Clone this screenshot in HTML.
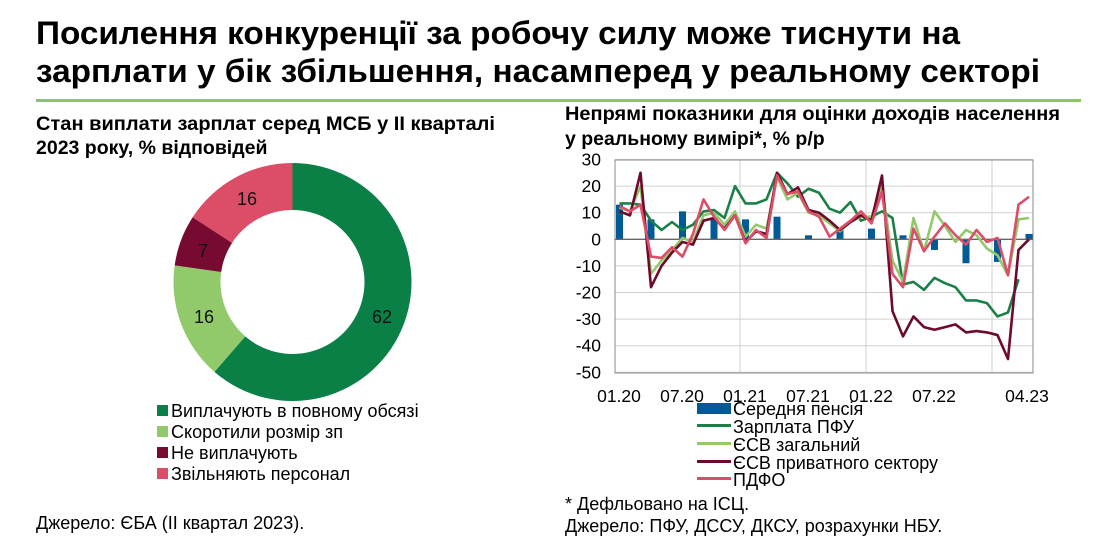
<!DOCTYPE html>
<html><head><meta charset="utf-8"><style>
body{margin:0;width:1095px;height:545px;background:#fff;overflow:hidden;font-family:"Liberation Sans",sans-serif;}
svg{position:absolute;left:0;top:0}
</style></head><body>
<svg id="s" width="1095" height="545" xmlns="http://www.w3.org/2000/svg" font-family="Liberation Sans, sans-serif">
<text x="36" y="44" font-size="32.5" font-weight="bold" textLength="924" lengthAdjust="spacingAndGlyphs">Посилення конкуренції за робочу силу може тиснути на</text>
<text x="36" y="82" font-size="32.5" font-weight="bold" textLength="1004" lengthAdjust="spacingAndGlyphs">зарплати у бік збільшення, насамперед у реальному секторі</text>
<rect x="36" y="99" width="1045" height="3" fill="#8cc45f"/>
<text x="36" y="130" font-size="19.5" font-weight="bold" textLength="459" lengthAdjust="spacingAndGlyphs">Стан виплати зарплат серед МСБ у ІІ кварталі</text>
<text x="36" y="154" font-size="19.5" font-weight="bold">2023 року, % відповідей</text>
<text x="565" y="120" font-size="19.5" font-weight="bold" textLength="495" lengthAdjust="spacingAndGlyphs">Непрямі показники для оцінки доходів населення</text>
<text x="565" y="145" font-size="19.5" font-weight="bold">у реальному вимірі*, % р/р</text>
<g id="donut"></g>
<g font-size="18">
<rect x="157" y="405" width="11" height="11" fill="#0a7f46"/><text x="171" y="417">Виплачують в повному обсязі</text>
<rect x="157" y="426" width="11" height="11" fill="#92c96b"/><text x="171" y="438">Скоротили розмір зп</text>
<rect x="157" y="447" width="11" height="11" fill="#760a30"/><text x="171" y="459">Не виплачують</text>
<rect x="157" y="468" width="11" height="11" fill="#dc4d68"/><text x="171" y="480">Звільняють персонал</text>
<text x="36" y="529" font-size="18">Джерело: ЄБА (ІІ квартал 2023).</text>
</g>
<g id="chart"></g>
<g font-size="18">
<rect x="697" y="403" width="34" height="11" fill="#005a96"/><text x="733" y="415">Середня пенсія</text>
<rect x="697" y="424" width="34" height="3" fill="#1a8048"/><text x="733" y="433">Зарплата ПФУ</text>
<rect x="697" y="442" width="34" height="3" fill="#92c96b"/><text x="733" y="451">ЄСВ загальний</text>
<rect x="697" y="460" width="34" height="3" fill="#6e0a2c"/><text x="733" y="469">ЄСВ приватного сектору</text>
<rect x="697" y="477" width="34" height="3" fill="#dc4d68"/><text x="733" y="486">ПДФО</text>
<text x="565" y="510">* Дефльовано на ІСЦ.</text>
<text x="565" y="532">Джерело: ПФУ, ДССУ, ДКСУ, розрахунки НБУ.</text>
</g>
</svg>
<script>
var NS="http://www.w3.org/2000/svg";
function el(p,t,a,txt){var e=document.createElementNS(NS,t);for(var k in a)e.setAttribute(k,a[k]);if(txt!==undefined)e.textContent=txt;p.appendChild(e);return e;}
var d=document.getElementById("donut");
var vals=[62,16,7,16],cols=["#0a7f46","#92c96b","#760a30","#dc4d68"],tot=101;
var cx=292.5,cy=282,R=119,r=72,a0=-Math.PI/2;
var lab=[[382,323],[204,323],[203,257],[247,205]];
vals.forEach(function(v,i){var a1=a0+v/tot*2*Math.PI;var lg=(a1-a0)>Math.PI?1:0;
var p="M"+(cx+R*Math.cos(a0))+" "+(cy+R*Math.sin(a0))+"A"+R+" "+R+" 0 "+lg+" 1 "+(cx+R*Math.cos(a1))+" "+(cy+R*Math.sin(a1))+"L"+(cx+r*Math.cos(a1))+" "+(cy+r*Math.sin(a1))+"A"+r+" "+r+" 0 "+lg+" 0 "+(cx+r*Math.cos(a0))+" "+(cy+r*Math.sin(a0))+"Z";
el(d,"path",{d:p,fill:cols[i]});
el(d,"text",{x:lab[i][0],y:lab[i][1],"font-size":"18","text-anchor":"middle",fill:"#111"},String(v));
a0=a1;});
var c=document.getElementById("chart");
var L=615,Rr=1033,T=160,B=373;
function Y(v){return 239.3-v*2.66;}
function X(i){return 619.5+10.5*i;}
for(var v=30;v>=-50;v-=10){ if(v!=0) el(c,"line",{x1:L,x2:Rr,y1:Y(v),y2:Y(v),stroke:"#d0d0d0","stroke-width":1});
 el(c,"text",{x:601,y:Y(v)+6,"font-size":"17.5","text-anchor":"end"},String(v));}
[740,866,992].forEach(function(x){el(c,"line",{x1:x,x2:x,y1:T,y2:B,stroke:"#d0d0d0"});});
el(c,"rect",{x:L,y:T,width:Rr-L,height:B-T,fill:"none",stroke:"#888"});
var xl=[["01.20",619],["07.20",682],["01.21",745],["07.21",808],["01.22",871],["07.22",934],["04.23",1027]];
xl.forEach(function(a){el(c,"text",{x:a[1],y:402,"font-size":"17.5","text-anchor":"middle"},a[0]);});
var bars=[13,7.5,10.5,8,7.5,8.5,1.5,3.5,4,1.5,-4,-9,-8.5,2];
bars.forEach(function(v,k){var x=X(k*3)-3.5;var y=Math.min(Y(v),Y(0));el(c,"rect",{x:x,y:y,width:7,height:Math.abs(Y(v)-Y(0)),fill:"#005a96"});});
el(c,"line",{x1:L,x2:Rr,y1:Y(0),y2:Y(0),stroke:"#666","stroke-width":1.3});
var pfu=[13.5,13.5,13,7,3.5,6.5,3.5,5.5,10.5,11,8,20,13.5,13.5,15,25,21,16,19,17.5,11.5,10,14,7,8.5,10.5,8,-17,-16,-19,-14.5,-16.5,-18,-23,-23,-24,-29,-27.5,-15];
var esv=[12,10.5,20,-13,-8,-4,0.5,-1,9,10,5.5,10.5,1,5.5,4,23.5,15,17.5,10,9,6,3,6.5,8.5,8.5,20,-8,-16,8,-4.5,10.5,5,-1,3.5,1.5,-3.5,-6,-13.5,7.5,8];
var prv=[10.5,9,25,-18,-10,-5,-1,-2,7,8,4,9,-1,3,2,25,17,19.5,11,10,7,3.5,6.5,9,7,24,-27,-36.5,-29,-33,-34,-33,-32,-35,-34.5,-35,-36,-45,-4,0];
var pdf=[12.5,10.5,13,-6.5,-7,-3,-6.5,2,15,8.5,3.5,9,-1.5,3.5,0.5,24,17,18,10.5,8.5,1,4,7,10.5,6,18,-13,-18,4,-4.5,1,6,1.5,-2,3.5,-1,0.5,-13.5,13,16];
function line(a,col){el(c,"polyline",{points:a.map(function(v,i){return X(i)+","+Y(v);}).join(" "),fill:"none",stroke:col,"stroke-width":2.6,"stroke-linejoin":"round"});}
line(pfu,"#1a8048");line(esv,"#92c96b");line(prv,"#6e0a2c");line(pdf,"#dc4d68");
</script>
</body></html>
